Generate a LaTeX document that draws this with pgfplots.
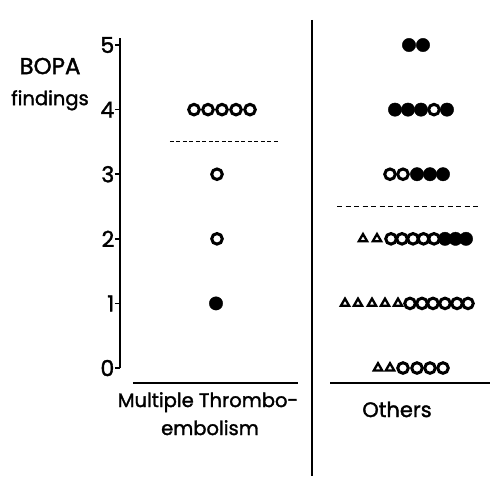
\documentclass[border=0pt]{standalone}
\usepackage{pgfplots}
\pgfplotsset{compat=1.18}
\usepackage{fontspec}
\setmainfont{Poppins}[RawFeature={embolden=1.6}]
\begin{document}
\begin{tikzpicture}
\begin{axis}[
  x=1pt, y=64.6pt,
  xmin=120, xmax=490, ymin=0, ymax=5.11,
  axis x line=none, axis y line=left,
  y axis line style={-, line width=2pt},
  ytick={0,1,2,3,4,5},
  tick align=outside, major tick length=5pt,
  tick style={line width=1.6pt, black},
  ytick pos=left,
  yticklabel style={font=\fontsize{22}{24}\selectfont, inner sep=0.5pt},
  /pgf/number format/assume math mode=true,
  clip=false,
]
% open circles
\addplot[only marks, mark=o, mark size=5.3pt, mark options={line width=3pt, black}] coordinates {
 (194,4)(208,4)(222,4)(236,4)(250,4)(217,3)(217,2)
 (434,4)
 (390,3)(403,3)
 (391,2)(402,2)(413,2)(423.5,2)(434,2)
 (410,1)(422,1)(433,1)(445,1)(457,1)(468,1)
 (403,0)(417,0)(430,0)(443,0)
};
% filled circles
\addplot[only marks, mark=*, mark size=6.7pt, mark options={black, fill=black}] coordinates {
 (216,1)
 (409,5)(423,5)
 (395,4)(408,4)(421,4)(447,4)
 (417,3)(430,3)(443,3)
 (445,2)(455.5,2)(466,2)
};
% open triangles
\addplot[only marks, mark=triangle, mark size=4.8pt, mark options={line width=2.3pt, black}] coordinates {
 (363,2)(377,2)
 (345,1)(358,1)(372,1)(385,1)(398,1)
 (378,0)(390,0)
};
% dashed separators
\addplot[black, line width=1.1pt, dash pattern=on 4pt off 2.5pt] coordinates {(170,3.5)(280,3.5)};
\addplot[black, line width=1.1pt, dash pattern=on 5pt off 3.5pt] coordinates {(337,2.5)(480,2.5)};
% group baselines
\addplot[black, line width=2.6pt] coordinates {(133,-0.23)(298,-0.23)};
\addplot[black, line width=2.6pt] coordinates {(330,-0.23)(490,-0.23)};
% divider
\addplot[black, line width=1.3pt] coordinates {(312,5.39)(312,-1.672)};
% labels
\node[anchor=base, font=\fontsize{23}{26}\selectfont] at (axis cs:50,4.55) {BOPA};
\node[anchor=base, font=\fontsize{19.5}{22}\selectfont] at (axis cs:50,4.07) {findings};
\node[anchor=base, font=\fontsize{19.5}{22}\selectfont] at (axis cs:208,-0.604) {Multiple Thrombo-};
\node[anchor=base, font=\fontsize{19.5}{22}\selectfont] at (axis cs:210,-1.037) {embolism};
\node[anchor=base, font=\fontsize{21}{22}\selectfont] at (axis cs:397,-0.759) {Others};
\coordinate (BL) at (axis cs:0,-1.672);
\coordinate (TR) at (axis cs:490,5.697);
\end{axis}
\pgfresetboundingbox
\path[use as bounding box] (BL) rectangle (TR);
\end{tikzpicture}
\end{document}
